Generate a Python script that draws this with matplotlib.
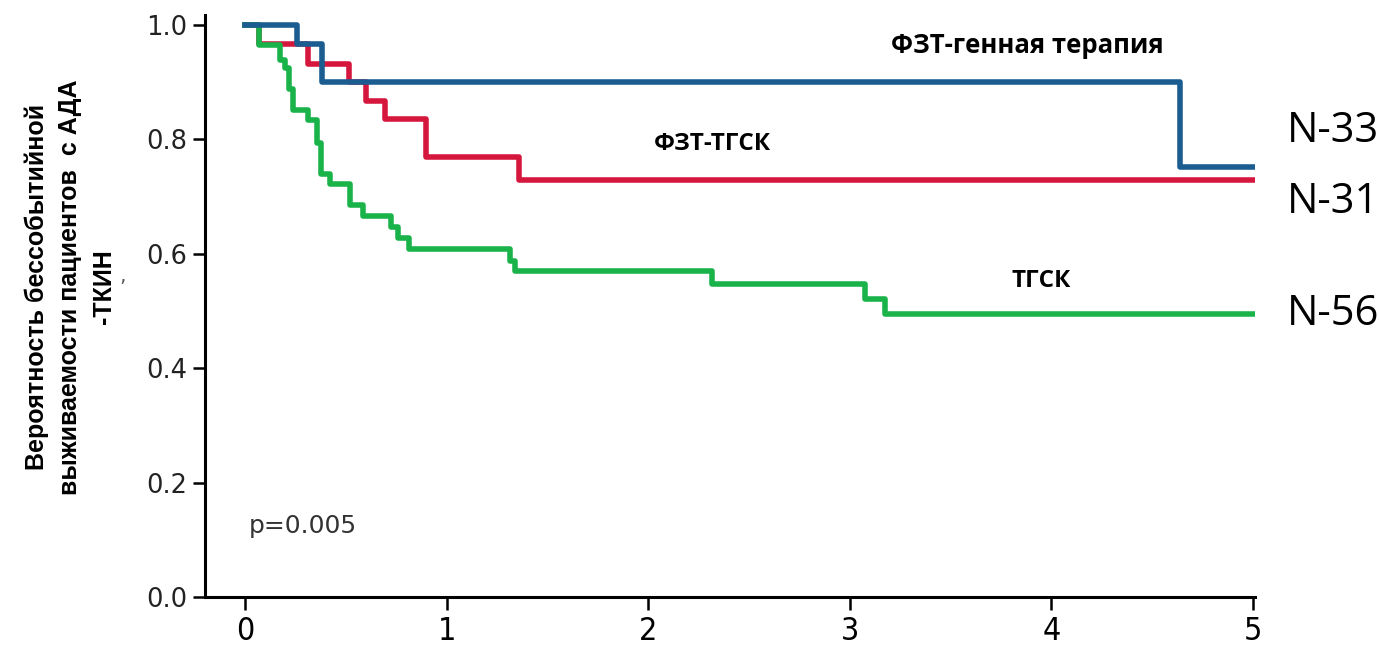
import matplotlib
matplotlib.use("Agg")
import matplotlib.pyplot as plt

# Kaplan-Meier event-free survival, ADA-SCID patients
years_ticks = [0, 1, 2, 3, 4, 5]
surv_ticks = [0.0, 0.2, 0.4, 0.6, 0.8, 1.0]

gene_t = [0, 0.26, 0.38, 4.64, 5.0]
gene_s = [1.0, 0.966, 0.90, 0.752, 0.752]

ert_hsct_t = [0, 0.07, 0.314, 0.517, 0.60, 0.694, 0.90, 1.36, 5.0]
ert_hsct_s = [1.0, 0.966, 0.931, 0.90, 0.867, 0.835, 0.769, 0.729, 0.729]

hsct_t = [0, 0.071, 0.174, 0.198, 0.22, 0.24, 0.314, 0.356, 0.375, 0.42,
          0.52, 0.587, 0.724, 0.76, 0.813, 1.314, 1.34, 2.315, 3.075, 3.175, 5.0]
hsct_s = [1.0, 0.965, 0.939, 0.924, 0.889, 0.851, 0.834, 0.793, 0.740, 0.7215,
          0.685, 0.666, 0.647, 0.628, 0.608, 0.588, 0.570, 0.5475, 0.521, 0.495, 0.495]

group_labels = ["ФЗТ-генная терапия", "ФЗТ-ТГСК", "ТГСК"]
n_labels = ["N-33", "N-31", "N-56"]
p_text = "p=0.005"
ylabel = "Вероятность бессобытийной\nвыживаемости пациентов  с АДА\n-ТКИН"

c_gene = "#1b5c91"
c_ert = "#d6173d"
c_hsct = "#19b34a"

fig = plt.figure(figsize=(13.79, 6.49), dpi=100)
ax = fig.add_axes([205 / 1379, 1 - 597 / 649, (1255 - 205) / 1379, (597 - 15) / 649])

ax.step(ert_hsct_t, ert_hsct_s, where="post", color=c_ert, lw=4.0, zorder=2)
ax.step(hsct_t, hsct_s, where="post", color=c_hsct, lw=4.0, zorder=3)
ax.step(gene_t, gene_s, where="post", color=c_gene, lw=4.0, zorder=4)

ax.set_xlim(-0.198, 5.01)
ax.set_ylim(0.0, 1.0175)

for s in ["top", "right"]:
    ax.spines[s].set_visible(False)
for s in ["left", "bottom"]:
    ax.spines[s].set_linewidth(2.2)
    ax.spines[s].set_color("black")

ax.set_xticks(years_ticks)
ax.set_xticklabels([str(v) for v in years_ticks], fontfamily="DejaVu Sans",
                   fontstretch="condensed", fontsize=23)
ax.set_yticks(surv_ticks)
ax.set_yticklabels([f"{v:.1f}" for v in surv_ticks], fontfamily="DejaVu Sans",
                   fontsize=18.5, color="#222222")
ax.tick_params(axis="x", direction="out", length=9, width=1.8, pad=5)
ax.tick_params(axis="y", direction="out", length=9, width=1.8, pad=4)

bold = dict(fontfamily="Open Sans", fontweight="bold", color="black")
ax.text(3.88, 0.965, group_labels[0], ha="center", va="center", fontsize=18.5, **bold)
ax.text(2.32, 0.792, group_labels[1], ha="center", va="center", fontsize=17.5, **bold)
ax.text(3.95, 0.552, group_labels[2], ha="center", va="center", fontsize=17.5, **bold)

ax.text(0.02, 0.125, p_text, fontfamily="DejaVu Sans", fontsize=18,
        color="#333333", ha="left", va="center")

for lab, yv in zip(n_labels, [0.815, 0.69, 0.495]):
    ax.text(5.17, yv, lab, fontfamily="Open Sans", fontsize=30, color="black",
            ha="left", va="center", clip_on=False)

fig.text(70 / 1379, 1 - 287 / 649, ylabel, rotation=90, ha="center", va="center",
         fontfamily="Liberation Sans", fontweight="bold", fontsize=18,
         linespacing=1.5, multialignment="center")
fig.text(122 / 1379, 1 - 287 / 649, "’", fontsize=14, color="#555555",
         ha="center", va="center")

fig.savefig("out.png", dpi=100, facecolor="white")
